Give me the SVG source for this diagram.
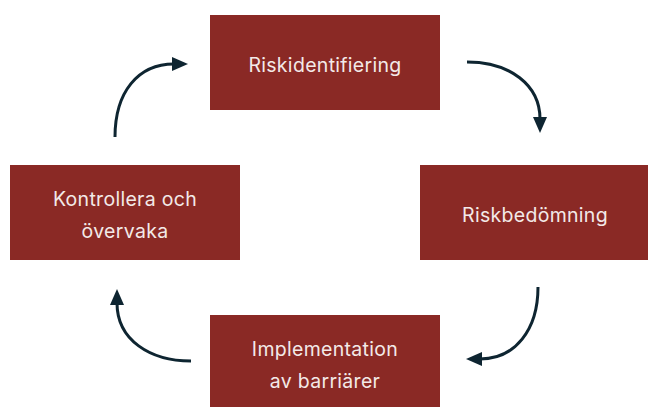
<svg xmlns="http://www.w3.org/2000/svg" width="648" height="407" viewBox="0 0 648 407">
<style>
.box{fill:#8a2925}
.lbl{font-family:Inter,"Liberation Sans",sans-serif;font-size:19.5px;fill:#f3e9e8;text-anchor:middle;letter-spacing:0.3px}
.con{fill:none;stroke:#0e2531;stroke-width:3}
</style>
<defs>
<marker id="ah" markerUnits="userSpaceOnUse" markerWidth="18" markerHeight="16" refX="2" refY="7" orient="auto">
<path d="M0,0 L16,7 L0,14 z" fill="#0e2531"/>
</marker>
</defs>
<rect width="648" height="407" fill="#ffffff"/>
<g id="n1"><rect class="box" x="210" y="15" width="230" height="95"/><text class="lbl" x="325" y="72">Riskidentifiering</text></g>
<g id="n2"><rect class="box" x="420" y="165" width="230" height="95"/><text class="lbl" x="535" y="222">Riskbedömning</text></g>
<g id="n3"><rect class="box" x="210" y="315" width="230" height="95"/><text class="lbl" x="325" y="356">Implementation</text><text class="lbl" x="325" y="388">av barriärer</text></g>
<g id="n4"><rect class="box" x="10" y="165" width="230" height="95"/><text class="lbl" x="125" y="206">Kontrollera och</text><text class="lbl" x="125" y="238">övervaka</text></g>
<g id="connectors">
<path class="con" d="M115,137 C115,92 138,64 174,64" marker-end="url(#ah)"/>
<path class="con" d="M467,62 C510,62 540,85 540,119" marker-end="url(#ah)"/>
<path class="con" d="M538,287 C538,330 515,359 480,359" marker-end="url(#ah)"/>
<path class="con" d="M191,361 C150,361 117,340 117,303" marker-end="url(#ah)"/>
</g>
</svg>
